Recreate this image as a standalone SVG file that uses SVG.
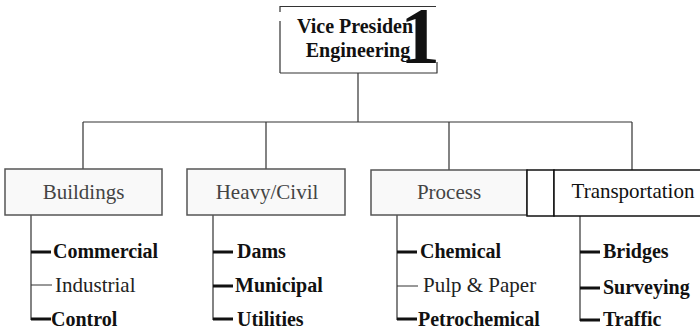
<svg xmlns="http://www.w3.org/2000/svg" width="700" height="332" viewBox="0 0 700 332">
<style>
text{font-family:'Liberation Serif','Times New Roman','DejaVu Serif',serif}
.hd{font-size:20px;font-weight:bold;fill:#111}
.bx{fill:#f9f9f9;stroke:#555;stroke-width:1.5}
.bk{fill:#fff;stroke:#111;stroke-width:1.5}
.bl{font-size:21px;fill:#444;text-anchor:middle}
.blk{font-size:21px;fill:#111;text-anchor:middle}
.it{font-size:20px;font-weight:bold;fill:#111}
.ir{font-size:21px;fill:#222}
.ln{stroke:#333;stroke-width:1.2;fill:none}
.tk{stroke:#111;stroke-width:3}
.tn{stroke:#333;stroke-width:1}
</style>
<g font-family="Liberation Serif, Times New Roman, serif">
<g id="vp">
<path class="ln" d="M280,6.5 H436 M280,6 V12 M280,21 V73 M280,73 H437.5 M437,62 V73" stroke-width="1.5"/>
<text class="hd" x="297" y="33">Vice Presiden</text>
<text class="hd" x="358" y="57" text-anchor="middle">Engineering</text>
<text x="420" y="63" font-size="80" font-weight="bold" text-anchor="middle" fill="#111">1</text>
</g>
<g id="connectors">
<path class="ln" d="M358,73 V122 M83,122 H632 M83,122 V169 M266,122 V169 M449,122 V170 M632,122 V170"/>
<path class="ln" d="M31,215 V320 M213,215 V320 M397,215 V320 M580,216 V321"/>
<path class="tk" d="M31,252 H51 M31,319 H51 M213,252 H233 M213,286 H233 M213,319 H233 M397,252 H417 M397,319 H417 M580,252 H600 M580,288 H600 M580,320 H600"/>
<path class="tn" d="M31,285 H52 M397,286 H418"/>
</g>
<g id="buildings">
<rect class="bx" x="5" y="169" width="157" height="46"/>
<text class="bl" x="83.5" y="199">Buildings</text>
</g>
<g id="heavy">
<rect class="bx" x="187" y="169" width="158" height="46"/>
<text class="bl" x="267" y="199">Heavy/Civil</text>
</g>
<g id="process">
<rect class="bx" x="371" y="170" width="156" height="45"/>
<text class="bl" x="449" y="199">Process</text>
</g>
<g id="spacer">
<rect class="bk" x="527" y="170" width="27" height="46"/>
</g>
<g id="transportation">
<rect class="bk" x="554" y="170" width="150" height="46"/>
<text class="blk" x="633" y="198">Transportation</text>
</g>
<g id="buildings-items">
<text class="it" x="53" y="258">Commercial</text>
<text class="ir" x="55" y="292">Industrial</text>
<text class="it" x="51" y="326">Control</text>
</g>
<g id="heavy-items">
<text class="it" x="237" y="258">Dams</text>
<text class="it" x="235" y="292">Municipal</text>
<text class="it" x="237" y="326">Utilities</text>
</g>
<g id="process-items">
<text class="it" x="420" y="258">Chemical</text>
<text class="ir" x="423" y="292">Pulp &amp; Paper</text>
<text class="it" x="418" y="326">Petrochemical</text>
</g>
<g id="transportation-items">
<text class="it" x="603" y="258">Bridges</text>
<text class="it" x="603" y="294">Surveying</text>
<text class="it" x="603" y="326">Traffic</text>
</g>
</g>
</svg>
